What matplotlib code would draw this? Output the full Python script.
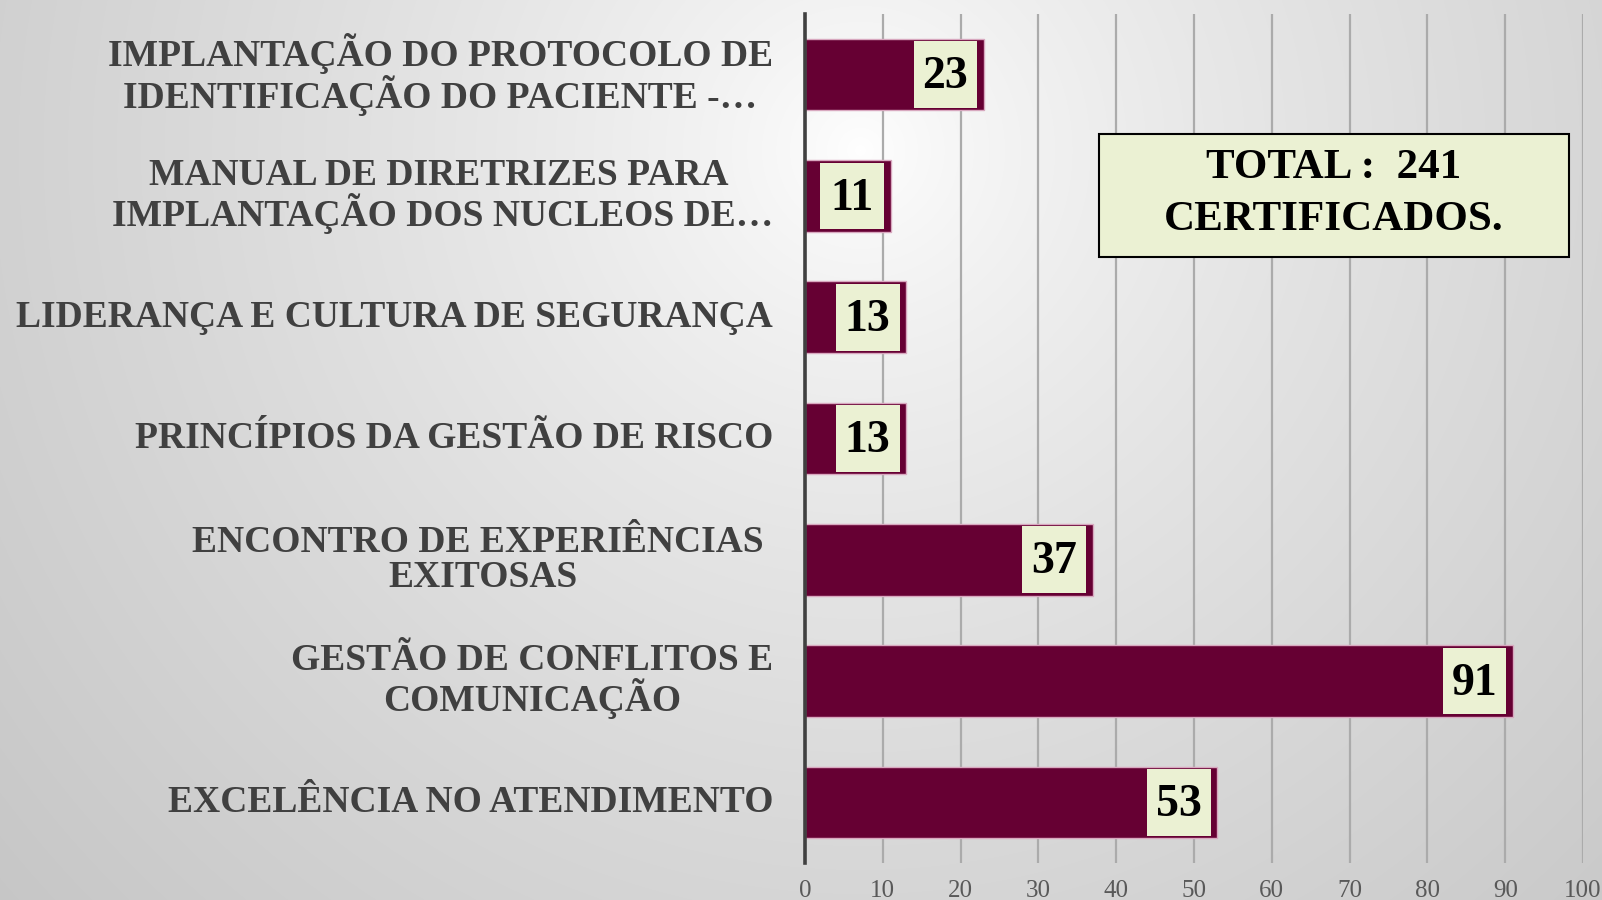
import numpy as np
import matplotlib
matplotlib.use("Agg")
import matplotlib.pyplot as plt
from matplotlib.patches import Rectangle

categories = [
    "EXCELÊNCIA NO ATENDIMENTO",
    "GESTÃO DE CONFLITOS E\nCOMUNICAÇÃO",
    "ENCONTRO DE EXPERIÊNCIAS \nEXITOSAS",
    "PRINCÍPIOS DA GESTÃO DE RISCO",
    "LIDERANÇA E CULTURA DE SEGURANÇA",
    "MANUAL DE DIRETRIZES PARA \nIMPLANTAÇÃO DOS NUCLEOS DE…",
    "IMPLANTAÇÃO DO PROTOCOLO DE\nIDENTIFICAÇÃO DO PACIENTE -…",
]
values = [53, 91, 37, 13, 13, 11, 23]
xticks = [0, 10, 20, 30, 40, 50, 60, 70, 80, 90, 100]
total_lines = ["TOTAL :  241", "CERTIFICADOS."]

W, H = 1602, 900
fig = plt.figure(figsize=(W / 100, H / 100), dpi=100)

# background radial gradient
bg = fig.add_axes([0, 0, 1, 1], zorder=-10)
yy, xx = np.mgrid[0:H, 0:W]
d = np.hypot(xx - 860, yy - 150)
v = 255 - 55 * np.clip(d / 1100, 0, 1.2) ** 0.75
img = np.dstack([v, v, v]).astype(np.uint8)
bg.imshow(img, extent=[0, 1, 0, 1], aspect="auto", origin="upper")
bg.axis("off")

ax = fig.add_axes([805 / W, 1 - 863 / H, (1583 - 805) / W, (863 - 14) / H])
ax.patch.set_alpha(0)

serif = ["Liberation Serif", "DejaVu Serif"]
y = np.arange(len(categories))
bar_h = 0.59
ax.barh(y, values, height=bar_h, color="#660033", edgecolor="#d8a8bf",
        linewidth=1.0, zorder=3)

ax.set_xlim(0, 100)
ax.set_ylim(-0.5, len(categories) - 0.5)
ax.set_xticks(xticks)
ax.set_xticklabels([str(t) for t in xticks], family=serif, fontsize=18, color="#595959")
ax.tick_params(axis="x", length=0, pad=12)
ax.grid(axis="x", color="#ababab", linewidth=1.6, zorder=0)
ax.set_axisbelow(True)

ax.set_yticks(y)
ax.set_yticklabels(categories, family=serif, fontsize=27.0, fontweight="bold",
                   color="#404040", linespacing=1.02)
for t in ax.get_yticklabels():
    t.set_multialignment("center")
    t.set_verticalalignment("center")
ax.tick_params(axis="y", length=0, pad=23)

for s in ["top", "right", "bottom"]:
    ax.spines[s].set_visible(False)
ax.spines["left"].set_color("#404040")
ax.spines["left"].set_linewidth(2.6)
ax.spines["left"].set_zorder(5)

# value label boxes (light fill inside bar end)
box_w = 8.2     # in data units
gap = 0.85
box_h = 0.55
for yi, val in zip(y, values):
    x1 = val - gap
    ax.add_patch(Rectangle((x1 - box_w, yi - box_h / 2), box_w, box_h,
                           facecolor="#ebf1d3", edgecolor="none", zorder=4))
    ax.text(x1 - box_w / 2, yi + 0.02, str(val), ha="center", va="center_baseline",
            family=serif, fontsize=33, fontweight="bold", color="black", zorder=6)

# total box
fig.patches.append(Rectangle((1099 / W, 1 - 257 / H), (1569 - 1099) / W, (257 - 134) / H,
                             transform=fig.transFigure, facecolor="#ebf1d3",
                             edgecolor="black", linewidth=1.5, zorder=10))
fig.text(1334 / W, 1 - 194 / H, "\n".join(total_lines), ha="center", va="center",
         multialignment="center", family=serif, fontsize=31, fontweight="bold",
         color="black", linespacing=1.45, zorder=11)

fig.savefig("out.png", dpi=100)
